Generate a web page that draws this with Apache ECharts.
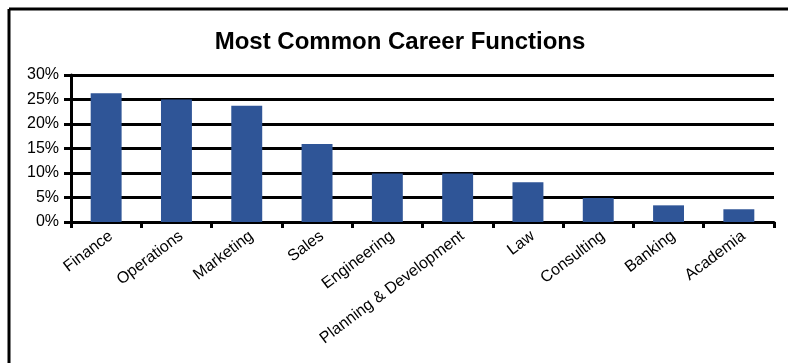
<!DOCTYPE html>
<html>
<head>
<meta charset="utf-8">
<script src="https://cdn.jsdelivr.net/npm/echarts@6/dist/echarts.min.js"></script>
<style>
  html, body { margin: 0; padding: 0; background: #fff; }
  #chart { width: 788px; height: 363px; }
</style>
</head>
<body>
<div id="chart"></div>
<script>
// Career functions, share of respondents (%)
const functions = ['Finance', 'Operations', 'Marketing', 'Sales', 'Engineering',
  'Planning & Development', 'Law', 'Consulting', 'Banking', 'Academia'];
const shares = [26.3, 25.0, 23.7, 15.9, 9.9, 9.9, 8.1, 4.9, 3.4, 2.6];
const yTicks = [0, 5, 10, 15, 20, 25, 30];

const chart = echarts.init(document.getElementById('chart'));
const font = 'Liberation Sans, Arial, sans-serif';

chart.setOption({
  animation: false,
  backgroundColor: '#fff',
  title: {
    text: 'Most Common Career Functions',
    left: 395,
    textAlign: 'center',
    top: 25,
    textStyle: { fontFamily: font, fontSize: 24, fontWeight: 'bold', color: '#000' }
  },
  graphic: [
    { type: 'line', shape: { x1: 9, y1: 9, x2: 788, y2: 9 }, style: { stroke: '#000', lineWidth: 3 } },
    { type: 'line', shape: { x1: 9, y1: 9, x2: 9, y2: 363 }, style: { stroke: '#000', lineWidth: 3 } }
  ],
  grid: { left: 71, right: 14, top: 75, bottom: 141 },
  xAxis: {
    type: 'category',
    data: functions,
    boundaryGap: true,
    axisLine: { lineStyle: { color: '#000', width: 3 } },
    axisTick: { show: true, length: 6, inside: false, lineStyle: { color: '#000', width: 3 } },
    axisLabel: {
      interval: 0,
      rotate: 37,
      margin: 6,
      verticalAlign: 'top',
      fontFamily: font,
      fontSize: 16,
      color: '#000'
    }
  },
  yAxis: {
    type: 'value',
    min: yTicks[0],
    max: yTicks[yTicks.length - 1],
    interval: 5,
    axisLine: { show: true, lineStyle: { color: '#000', width: 3 } },
    axisTick: { show: true, length: 7, lineStyle: { color: '#000', width: 3 } },
    splitLine: { show: true, lineStyle: { color: '#000', width: 3 } },
    axisLabel: {
      margin: 12,
      fontFamily: font,
      fontSize: 16,
      color: '#000',
      formatter: v => v + '%'
    }
  },
  series: [{
    type: 'bar',
    data: shares,
    barWidth: '44%',
    itemStyle: { color: '#2F5597' }
  }]
});
</script>
</body>
</html>
